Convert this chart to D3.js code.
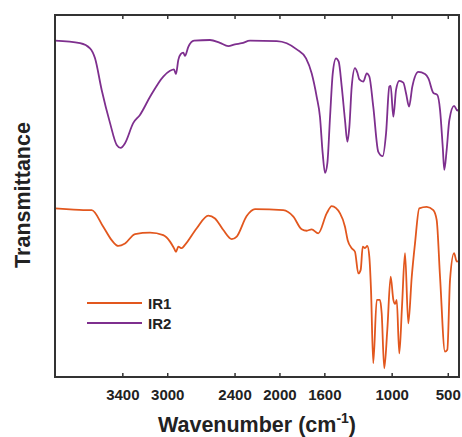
<!DOCTYPE html>
<html>
<head>
<meta charset="utf-8">
<script src="https://cdn.jsdelivr.net/npm/d3@7"></script>
<style>
  html, body { margin: 0; padding: 0; background: #fff; }
  svg { display: block; }
  text { font-family: "Liberation Sans", Arial, sans-serif; font-weight: bold; fill: #222; }
</style>
</head>
<body>
<svg id="chart" width="462" height="437"></svg>
<script>
// ---- data (wavenumber in cm^-1, transmittance in arbitrary units) ----
const xTicks = [3400, 3000, 2400, 2000, 1600, 1000, 500];
const seriesNames = ["IR1", "IR2"];
const seriesColors = ["#E2571E", "#7E2F8E"];

const ir1Wavenumber = [4000,3866,3748,3673,3570,3495,3436,3376,3287,3153,3035,2975,2940,2922,2901,2871,2842,2737,2634,2574,2500,2425,2381,2292,2218,1966,1876,1802,1757,1713,1654,1579,1534,1460,1416,1392,1356,1327,1297,1276,1258,1238,1217,1199,1184,1164,1133,1104,1089,1066,1039,1009,985,970,955,932,908,881,852,821,792,754,688,629,599,569,525,504,480,444,420,400];
const ir1Transmittance = [46.6,46.3,46.1,46.1,41.5,37.8,36.2,36.9,39.5,39.9,39.2,37.4,35.6,34.6,36.0,35.6,36.5,41.1,44.6,43.8,40.6,38.1,38.8,44.5,46.4,46.1,44.3,40.8,40.4,40.8,39.7,45.2,47.2,45.2,41.5,37.8,35.6,34.6,28.6,29.6,36.0,35.6,36.2,33.2,24.0,3.8,21.3,21.3,17.6,2.4,13.0,27.7,21.3,20.2,21.3,6.5,19.4,34.2,14.8,27.7,36.9,46.6,47.0,46.1,43.4,27.7,7.0,7.5,26.8,34.2,31.9,32.0];

const ir2Wavenumber = [4000,3777,3688,3644,3584,3510,3450,3415,3376,3302,3243,3153,3035,2975,2940,2922,2901,2880,2857,2842,2812,2761,2619,2530,2456,2396,2336,2262,2024,1935,1846,1763,1713,1668,1639,1615,1594,1573,1549,1525,1496,1472,1445,1416,1395,1377,1356,1327,1306,1288,1253,1222,1199,1164,1119,1080,1050,1021,1009,985,961,932,896,872,845,816,763,703,673,629,593,569,545,531,510,486,444,415,400];
const ir2Transmittance = [92.9,92.2,90.8,88.1,79.3,70.2,64.1,63.3,64.6,70.2,72.4,77.4,83.0,84.6,85.0,83.7,87.6,89.2,89.6,88.7,91.2,92.9,93.1,92.3,91.4,91.9,92.2,92.9,92.8,92.2,90.5,88.0,83.9,77.4,71.9,61.9,56.4,59.1,71.9,83.9,88.0,87.1,80.2,71.0,65.0,69.1,80.2,85.3,84.1,82.2,81.6,83.9,83.0,74.7,62.2,61.0,67.3,80.2,80.4,71.9,79.3,81.8,81.3,78.4,74.7,80.2,84.3,83.7,82.5,78.5,77.9,73.8,63.6,57.2,62.7,71.0,74.9,73.6,74.0];

// ---- layout ----
const W = 462, H = 437;
const m = { left: 55, right: 3, top: 15, bottom: 60 };
const svg = d3.select("#chart");

const x = d3.scaleLinear().domain([4000, 400]).range([m.left, W - m.right]);
const y = d3.scaleLinear().domain([0, 100]).range([H - m.bottom, m.top]);

const series = [
  { name: seriesNames[0], color: seriesColors[0], pts: ir1Wavenumber.map((w, i) => [w, ir1Transmittance[i]]) },
  { name: seriesNames[1], color: seriesColors[1], pts: ir2Wavenumber.map((w, i) => [w, ir2Transmittance[i]]) }
];

const line = d3.line().x(d => x(d[0])).y(d => y(d[1])).curve(d3.curveMonotoneX);

svg.append("g").selectAll("path").data(series).join("path")
  .attr("d", d => line(d.pts))
  .attr("fill", "none")
  .attr("stroke", d => d.color)
  .attr("stroke-width", 1.8)
  .attr("stroke-linejoin", "round");

// axes
const axB = svg.append("g")
  .attr("transform", `translate(0,${H - m.bottom})`)
  .call(d3.axisBottom(x).tickValues(xTicks).tickSizeInner(-4).tickSizeOuter(0).tickPadding(12).tickFormat(d3.format("d")));
axB.selectAll("text").style("font-size", "15px").attr("fill", "#222");
axB.select(".domain").remove();
axB.selectAll("line").attr("stroke", "#333").attr("stroke-width", 1.5);

const axT = svg.append("g")
  .attr("transform", `translate(0,${m.top})`)
  .call(d3.axisTop(x).tickValues(xTicks).tickSizeInner(-4).tickSizeOuter(0).tickFormat(""));
axT.select(".domain").remove();
axT.selectAll("line").attr("stroke", "#333").attr("stroke-width", 1.5);

// frame
svg.append("rect")
  .attr("x", m.left).attr("y", m.top)
  .attr("width", W - m.right - m.left).attr("height", H - m.bottom - m.top)
  .attr("fill", "none").attr("stroke", "#333").attr("stroke-width", 2);

// axis titles
const xt = svg.append("text")
  .attr("x", (m.left + W - m.right) / 2).attr("y", 432)
  .attr("text-anchor", "middle").style("font-size", "21.5px");
xt.append("tspan").text("Wavenumber (cm");
xt.append("tspan").attr("dy", -9).style("font-size", "14px").text("-1");
xt.append("tspan").attr("dy", 9).text(")");

svg.append("text")
  .attr("transform", `translate(30,195) rotate(-90)`)
  .attr("text-anchor", "middle").style("font-size", "21.5px")
  .text("Transmittance");

// legend
const lg = svg.append("g").selectAll("g").data(series).join("g")
  .attr("transform", (d, i) => `translate(87,${303 + i * 20})`);
lg.append("line").attr("x1", 0).attr("x2", 55).attr("y1", 0).attr("y2", 0)
  .attr("stroke", d => d.color).attr("stroke-width", 1.8);
lg.append("text").attr("x", 61).attr("y", 5.5).style("font-size", "15px").text(d => d.name);
</script>
</body>
</html>
